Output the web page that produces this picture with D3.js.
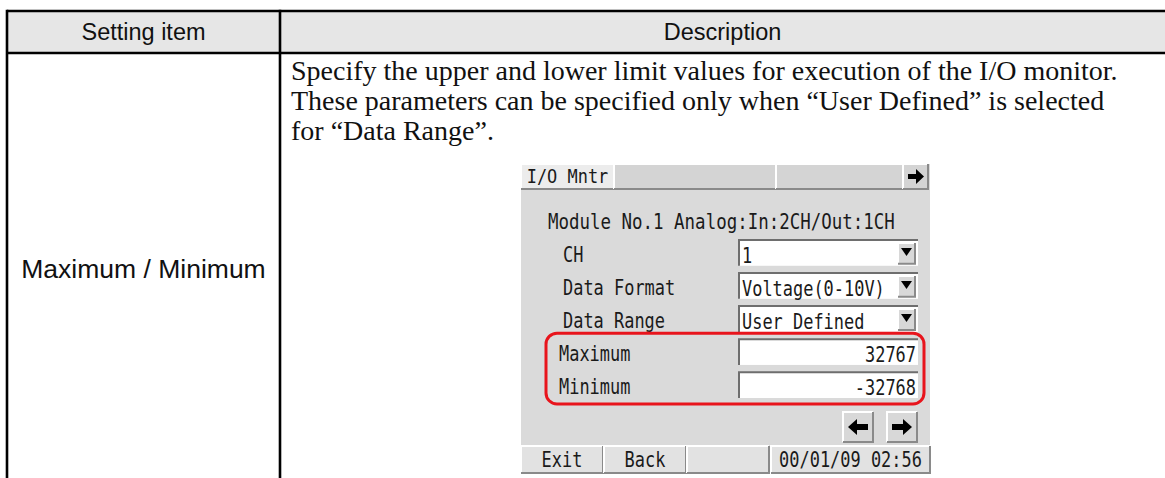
<!DOCTYPE html>
<html><head><meta charset="utf-8">
<script src="https://cdn.jsdelivr.net/npm/d3@7"></script>
<style>body{margin:0;background:#fff;} svg{display:block}</style>
</head><body>
<svg id="c" width="1165" height="478"></svg>
<script>
// ---- data ----
const columns = ["Setting item", "Description"];
const settingItems = ["Maximum / Minimum"];
const descriptionLines = [
  "Specify the upper and lower limit values for execution of the I/O monitor.",
  "These parameters can be specified only when \u201cUser Defined\u201d is selected",
  "for \u201cData Range\u201d."
];
const tabs = ["I/O Mntr", "", ""];
const moduleLine = "Module No.1  Analog:In:2CH/Out:1CH";
const fieldLabels = ["CH", "Data Format", "Data Range", "Maximum", "Minimum"];
const fieldValues = ["1", "Voltage(0-10V)", "User Defined", "32767", "-32768"];
const fieldTypes = ["select", "select", "select", "input", "input"];
const highlighted = ["Maximum", "Minimum"];
const footerButtons = ["Exit", "Back", "", "00/01/09 02:56"];

// ---- layout ----
const svg = d3.select("#c");
const W = 1165, H = 478;
const tableX = d3.scaleOrdinal().domain(columns).range([7, 280]);
const tableRight = 1190;
const headTop = 11, headBottom = 53;
const colEnd = [tableX(columns[1]), W];

// header background
svg.selectAll("rect.head").data(columns).join("rect")
  .attr("x", d => tableX(d)).attr("y", headTop)
  .attr("width", (d, i) => (i === 0 ? tableX(columns[1]) : tableRight) - tableX(d))
  .attr("height", headBottom - headTop).attr("fill", "#e6e6e6");

svg.selectAll("text.head").data(columns).join("text")
  .attr("x", (d, i) => (tableX(d) + colEnd[i]) / 2)
  .attr("y", 40).attr("text-anchor", "middle")
  .attr("font-family", "Liberation Sans, Arial, sans-serif").attr("font-size", 23.5)
  .attr("fill", "#111").text(d => d);

// body: setting item
svg.selectAll("text.item").data(settingItems).join("text")
  .attr("x", (tableX(columns[0]) + tableX(columns[1])) / 2).attr("y", 278)
  .attr("text-anchor", "middle")
  .attr("font-family", "Liberation Sans, Arial, sans-serif").attr("font-size", 26.5)
  .attr("fill", "#111").text(d => d);

// description lines
const lineY = d3.scaleBand().domain(descriptionLines.map((d, i) => i)).range([58, 148]);
svg.selectAll("text.desc").data(descriptionLines).join("text")
  .attr("x", tableX(columns[1]) + 11).attr("y", (d, i) => lineY(i) + 22)
  .attr("font-family", "Liberation Serif, Times New Roman, serif").attr("font-size", 28)
  .attr("fill", "#111").text(d => d);

// table lines
const lw = 2.6;
const hLines = [headTop, headBottom];
svg.selectAll("line.h").data(hLines).join("line")
  .attr("x1", tableX(columns[0])).attr("x2", tableRight)
  .attr("y1", d => d).attr("y2", d => d)
  .attr("stroke", "#000").attr("stroke-width", lw);
svg.selectAll("line.v").data(columns).join("line")
  .attr("x1", d => tableX(d)).attr("x2", d => tableX(d))
  .attr("y1", headTop - lw / 2).attr("y2", H)
  .attr("stroke", "#000").attr("stroke-width", lw);

// ---- UI screenshot ----
const ui = { x: 521, y: 164, w: 409, tabH: 25, footTop: 446, footH: 27 };
const g = svg.append("g");
const monoFont = "DejaVu Sans Mono, Liberation Mono, monospace";
const charW = 10.2;
function monoText(sel, s, x, y, anchor, size) {
  const t = sel.append("text").attr("x", x).attr("y", y)
    .attr("font-family", monoFont).attr("font-size", size || 21)
    .style("font-variant-numeric", "slashed-zero")
    .attr("fill", "#1a1a1a").attr("text-anchor", anchor || "start").text(s);
  if (s.length) t.attr("textLength", s.length * charW).attr("lengthAdjust", "spacingAndGlyphs");
  return t;
}
function bevel(sel, x, y, w, h, fill, raised) {
  sel.append("rect").attr("x", x).attr("y", y).attr("width", w).attr("height", h).attr("fill", fill);
  const light = raised ? "#ffffff" : "#7a7a7a", dark = raised ? "#8a8a8a" : "#f4f4f4";
  sel.append("path").attr("d", `M${x},${y + h}V${y}H${x + w}`).attr("fill", "none").attr("stroke", light).attr("stroke-width", 2);
  sel.append("path").attr("d", `M${x + w},${y}V${y + h}H${x}`).attr("fill", "none").attr("stroke", dark).attr("stroke-width", 2);
}

// panel
g.append("rect").attr("x", ui.x).attr("y", ui.y).attr("width", ui.w).attr("height", ui.footTop + ui.footH - ui.y).attr("fill", "#dadada");

// tabs
const tabX = d3.scaleOrdinal().domain([0, 1, 2, 3]).range([521, 614, 776, 903]);
const tabEnd = [614, 776, 903, 928];
tabs.forEach((t, i) => {
  bevel(g, tabX(i), ui.y, tabEnd[i] - tabX(i), ui.tabH, i === 0 ? "#ececec" : "#d4d4d4", true);
  if (t) monoText(g, t, (tabX(i) + tabEnd[i]) / 2, ui.y + 19, "middle", 20);
});
bevel(g, 903, ui.y, 25, ui.tabH, "#d4d4d4", true);
g.append("path").attr("d", "M908,174h8v-5l8,7.5l-8,7.5v-5h-8z").attr("fill", "#000");

// module line
monoText(g, moduleLine, 548, 229, "start", 21);

// rows
const rowY = d3.scaleBand().domain(fieldLabels).range([240, 398]).paddingInner(0.22);
const fieldX0 = 739, fieldX1 = 918;
fieldLabels.forEach((lab, i) => {
  const y = rowY(lab), h = rowY.bandwidth();
  monoText(g, lab, highlighted.includes(lab) ? 559 : 563, y + h - 4, "start", 21);
  g.append("rect").attr("x", fieldX0).attr("y", y).attr("width", fieldX1 - fieldX0).attr("height", h).attr("fill", "#fff");
  g.append("path").attr("d", `M${fieldX0},${y + h}V${y}H${fieldX1}`).attr("fill", "none").attr("stroke", "#6e6e6e").attr("stroke-width", 2);
  if (fieldTypes[i] === "select") {
    monoText(g, fieldValues[i], fieldX0 + 3, y + h - 3, "start", 21);
    bevel(g, fieldX1 - 20, y + 3, 17, h - 5, "#d8d8d8", true);
    g.append("path").attr("d", `M${fieldX1 - 17},${y + 8}h11l-5.5,8z`).attr("fill", "#000");
  } else {
    monoText(g, fieldValues[i], fieldX1 - 2, y + h - 3, "end", 21);
  }
});

// highlight box
const hy0 = rowY(highlighted[0]) - 6, hy1 = rowY(highlighted[1]) + rowY.bandwidth() + 6;
g.append("rect").attr("x", 546).attr("y", hy0).attr("width", 378).attr("height", hy1 - hy0)
  .attr("rx", 11).attr("fill", "none").attr("stroke", "#e8141c").attr("stroke-width", 3);

// arrow buttons
bevel(g, 843, 412, 30, 30, "#d8d8d8", true);
g.append("path").attr("d", "M848,427l9,-8v5h11v6h-11v5z").attr("fill", "#000");
bevel(g, 887, 412, 30, 30, "#d8d8d8", true);
g.append("path").attr("d", "M912,427l-9,-8v5h-11v6h11v5z").attr("fill", "#000");

// footer
const footX = d3.scaleOrdinal().domain([0, 1, 2, 3]).range([521, 604, 687, 771]);
const footEnd = [603, 686, 769, 930];
footerButtons.forEach((t, i) => {
  bevel(g, footX(i), ui.footTop, footEnd[i] - footX(i), ui.footH, "#e2e2e2", true);
  if (t) monoText(g, t, (footX(i) + footEnd[i]) / 2, ui.footTop + 21, "middle", 21);
});
</script>
</body></html>
